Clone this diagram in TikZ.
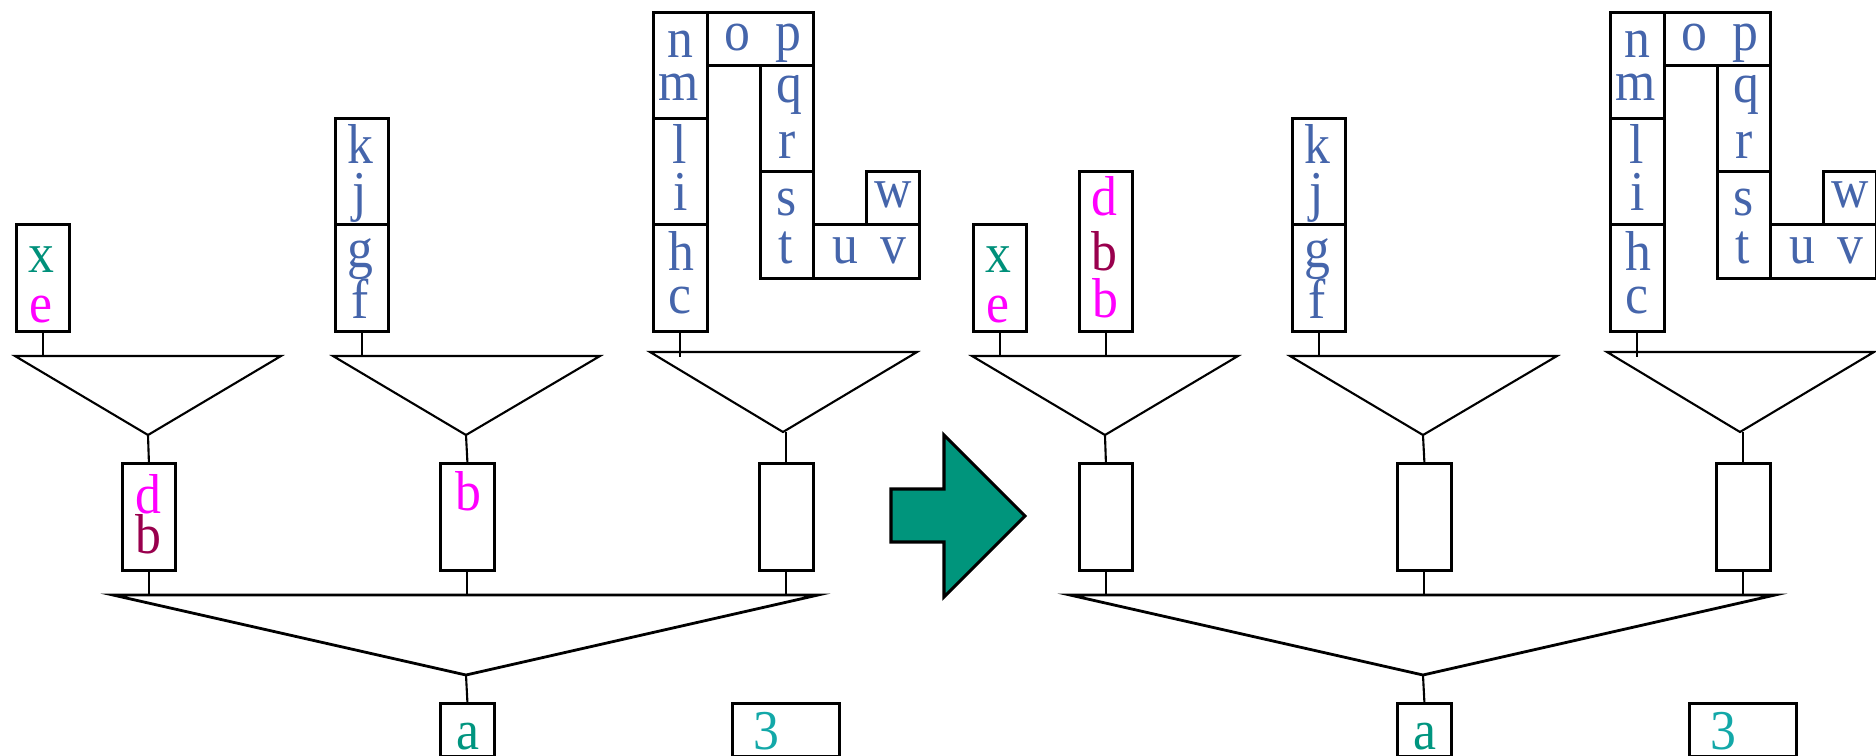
\documentclass[tikz,border=0pt]{standalone}
\usepackage{fontspec}
\setmainfont{Liberation Serif}[FakeStretch=0.92]
\definecolor{blu}{HTML}{4565AB}
\definecolor{grn}{HTML}{00907A}
\definecolor{mag}{HTML}{FF00FF}
\definecolor{plum}{HTML}{99004D}
\definecolor{tla}{HTML}{00957F}
\definecolor{cyn}{HTML}{13A8A8}
\definecolor{arr}{HTML}{00957C}

\begin{document}
\begin{tikzpicture}[x=0.1mm, y=-0.1mm,
	every node/.style={font=\fontsize{16}{19}\selectfont},
	box/.style={draw, line width=0.8pt, inner sep=0pt, anchor=north west},
	lt/.style={inner sep=0pt, anchor=base, text=blu},
	tri/.style={line width=0.6pt},
	stem/.style={line width=0.6pt}]
	\useasboundingbox (0,0) rectangle (1876,755);

	% left: before
	\node[box, minimum width=5.3mm, minimum height=10.7mm] (xe) at (15,223) {};
	\node[lt, text=grn] (lx) at (41,272) {x};
	\node[lt, text=mag] (le) at (41,322) {e};

	\node[box, minimum width=5.3mm, minimum height=10.6mm] (kj) at (334,117) {};
	\node[box, minimum width=5.3mm, minimum height=10.7mm] (gf) at (334,223) {};
	\node[lt] (lk) at (360,163) {k};
	\node[lt] (lj) at (360,210) {j};
	\node[lt] (lg) at (360,267) {g};
	\node[lt] (lf) at (360,318) {f};

	\node[box, minimum width=5.4mm, minimum height=10.6mm] (nm) at (652,11) {};
	\node[box, minimum width=5.4mm, minimum height=10.6mm] (li) at (652,117) {};
	\node[box, minimum width=5.4mm, minimum height=10.7mm] (hc) at (652,223) {};
	\node[box, minimum width=10.6mm, minimum height=5.3mm] (op) at (706,11) {};
	\node[box, minimum width=5.3mm, minimum height=10.6mm] (qr) at (759,64) {};
	\node[box, minimum width=5.3mm, minimum height=10.7mm] (st) at (759,170) {};
	\node[box, minimum width=10.6mm, minimum height=5.4mm] (uv) at (812,223) {};
	\node[box, minimum width=5.3mm, minimum height=5.3mm] (wb) at (865,170) {};
	\node[lt] (ln) at (680,57) {n};
	\node[lt] (lm) at (679,100) {m};
	\node[lt] (ll) at (680,163) {l};
	\node[lt] (li1) at (681,210) {i};
	\node[lt] (lh) at (681,270) {h};
	\node[lt] (lc) at (680,313) {c};
	\node[lt] (lo) at (737,50) {o};
	\node[lt] (lp) at (788,50) {p};
	\node[lt] (lq) at (789,102) {q};
	\node[lt] (lr) at (787,158) {r};
	\node[lt] (ls) at (787,215) {s};
	\node[lt] (lt1) at (786,263) {t};
	\node[lt] (lu) at (845,263) {u};
	\node[lt] (lv) at (893,263) {v};
	\node[lt] (lw) at (893,207) {w};

	\coordinate (tp1) at (148,356); \coordinate (ap1) at (148,435);
	\coordinate (tp2) at (466,356); \coordinate (ap2) at (466,435);
	\coordinate (tp3) at (783,357); \coordinate (ap3) at (783,432);
	\draw[tri] (15,356) -- (281,356) -- (ap1) -- cycle;
	\draw[tri] (333,356) -- (600,356) -- (ap2) -- cycle;
	\draw[tri] (650,352) -- (917,352) -- (ap3) -- cycle;
	\draw[stem] (xe.south) -- (xe.south |- tp1);
	\draw[stem] (gf.south) -- (gf.south |- tp2);
	\draw[stem] (hc.south) -- (hc.south |- tp3);

	\node[box, minimum width=5.3mm, minimum height=10.7mm] (mid1) at (121,462) {};
	\node[box, minimum width=5.4mm, minimum height=10.7mm] (mid2) at (439,462) {};
	\node[box, minimum width=5.4mm, minimum height=10.7mm] (mid3) at (758,462) {};
	\node[lt, text=mag] (ld) at (148,513) {d};
	\node[lt, text=plum] (lb) at (148,553) {b};
	\node[lt, text=mag] (lb2) at (468,510) {b};
	\draw[stem] (ap1) -- (mid1.north);
	\draw[stem] (ap2) -- (mid2.north);
	\draw[stem] (mid3.north |- ap3) -- (mid3.north);

	\coordinate (bt) at (466,595); \coordinate (ba) at (466,675);
	\draw[tri, line width=0.8pt] (113,595) -- (818,595) -- (ba) -- cycle;
	\draw[stem] (mid1.south) -- (mid1.south |- bt);
	\draw[stem] (mid2.south) -- (mid2.south |- bt);
	\draw[stem] (mid3.south) -- (mid3.south |- bt);
	\node[box, minimum width=5.4mm, minimum height=5.3mm] (abox) at (439,702) {};
	\node[box, minimum width=10.7mm, minimum height=5.3mm] (nbox) at (731,702) {};
	\node[lt, text=tla] (la) at (468,749) {a};
	\node[lt, text=cyn] (l3) at (766,749) {3};
	\draw[stem] (ba) -- (abox.north);

	% arrow
	\draw[line width=0.9pt, fill=arr, line join=miter] (891,489) -- (944,489) -- (944,435)
		-- (1025,516) -- (944,597) -- (944,542) -- (891,542) -- cycle;

	% right: after
	\begin{scope}[xshift=95.7mm]
	\node[box, minimum width=5.3mm, minimum height=10.7mm] (xeR) at (15,223) {};
	\node[lt, text=grn] (lxR) at (41,272) {x};
	\node[lt, text=mag] (leR) at (41,322) {e};
	\node[box, minimum width=5.3mm, minimum height=16mm] (dbbR) at (121,170) {};
	\node[lt, text=mag] (ldR) at (147,215) {d};
	\node[lt, text=plum] (lbR) at (147,270) {b};
	\node[lt, text=mag] (lb2R) at (148,317) {b};

	\node[box, minimum width=5.3mm, minimum height=10.6mm] (kjR) at (334,117) {};
	\node[box, minimum width=5.3mm, minimum height=10.7mm] (gfR) at (334,223) {};
	\node[lt] (lkR) at (360,163) {k};
	\node[lt] (ljR) at (360,210) {j};
	\node[lt] (lgR) at (360,267) {g};
	\node[lt] (lfR) at (360,318) {f};

	\node[box, minimum width=5.4mm, minimum height=10.6mm] (nmR) at (652,11) {};
	\node[box, minimum width=5.4mm, minimum height=10.6mm] (liR) at (652,117) {};
	\node[box, minimum width=5.4mm, minimum height=10.7mm] (hcR) at (652,223) {};
	\node[box, minimum width=10.6mm, minimum height=5.3mm] (opR) at (706,11) {};
	\node[box, minimum width=5.3mm, minimum height=10.6mm] (qrR) at (759,64) {};
	\node[box, minimum width=5.3mm, minimum height=10.7mm] (stR) at (759,170) {};
	\node[box, minimum width=10.6mm, minimum height=5.4mm] (uvR) at (812,223) {};
	\node[box, minimum width=5.3mm, minimum height=5.3mm] (wbR) at (865,170) {};
	\node[lt] (lnR) at (680,57) {n};
	\node[lt] (lmR) at (679,100) {m};
	\node[lt] (llR) at (680,163) {l};
	\node[lt] (liR1) at (681,210) {i};
	\node[lt] (lhR) at (681,270) {h};
	\node[lt] (lcR) at (680,313) {c};
	\node[lt] (loR) at (737,50) {o};
	\node[lt] (lpR) at (788,50) {p};
	\node[lt] (lqR) at (789,102) {q};
	\node[lt] (lrR) at (787,158) {r};
	\node[lt] (lsR) at (787,215) {s};
	\node[lt] (ltR) at (786,263) {t};
	\node[lt] (luR) at (845,263) {u};
	\node[lt] (lvR) at (893,263) {v};
	\node[lt] (lwR) at (893,207) {w};

	\coordinate (tp1R) at (148,356); \coordinate (ap1R) at (148,435);
	\coordinate (tp2R) at (466,356); \coordinate (ap2R) at (466,435);
	\coordinate (tp3R) at (783,357); \coordinate (ap3R) at (783,432);
	\draw[tri] (15,356) -- (281,356) -- (ap1R) -- cycle;
	\draw[tri] (333,356) -- (600,356) -- (ap2R) -- cycle;
	\draw[tri] (650,352) -- (917,352) -- (ap3R) -- cycle;
	\draw[stem] (xeR.south) -- (xeR.south |- tp1R);
	\draw[stem] (dbbR.south) -- (dbbR.south |- tp1R);
	\draw[stem] (gfR.south) -- (gfR.south |- tp2R);
	\draw[stem] (hcR.south) -- (hcR.south |- tp3R);

	\node[box, minimum width=5.3mm, minimum height=10.7mm] (mid1R) at (121,462) {};
	\node[box, minimum width=5.4mm, minimum height=10.7mm] (mid2R) at (439,462) {};
	\node[box, minimum width=5.4mm, minimum height=10.7mm] (mid3R) at (758,462) {};
	\draw[stem] (ap1R) -- (mid1R.north);
	\draw[stem] (ap2R) -- (mid2R.north);
	\draw[stem] (mid3R.north |- ap3R) -- (mid3R.north);

	\coordinate (btR) at (466,595); \coordinate (baR) at (466,675);
	\draw[tri, line width=0.8pt] (113,595) -- (818,595) -- (baR) -- cycle;
	\draw[stem] (mid1R.south) -- (mid1R.south |- btR);
	\draw[stem] (mid2R.south) -- (mid2R.south |- btR);
	\draw[stem] (mid3R.south) -- (mid3R.south |- btR);
	\node[box, minimum width=5.4mm, minimum height=5.3mm] (aboxR) at (439,702) {};
	\node[box, minimum width=10.7mm, minimum height=5.3mm] (nboxR) at (731,702) {};
	\node[lt, text=tla] (laR) at (468,749) {a};
	\node[lt, text=cyn] (l3R) at (766,749) {3};
	\draw[stem] (baR) -- (aboxR.north);
	\end{scope}
\end{tikzpicture}
\end{document}
